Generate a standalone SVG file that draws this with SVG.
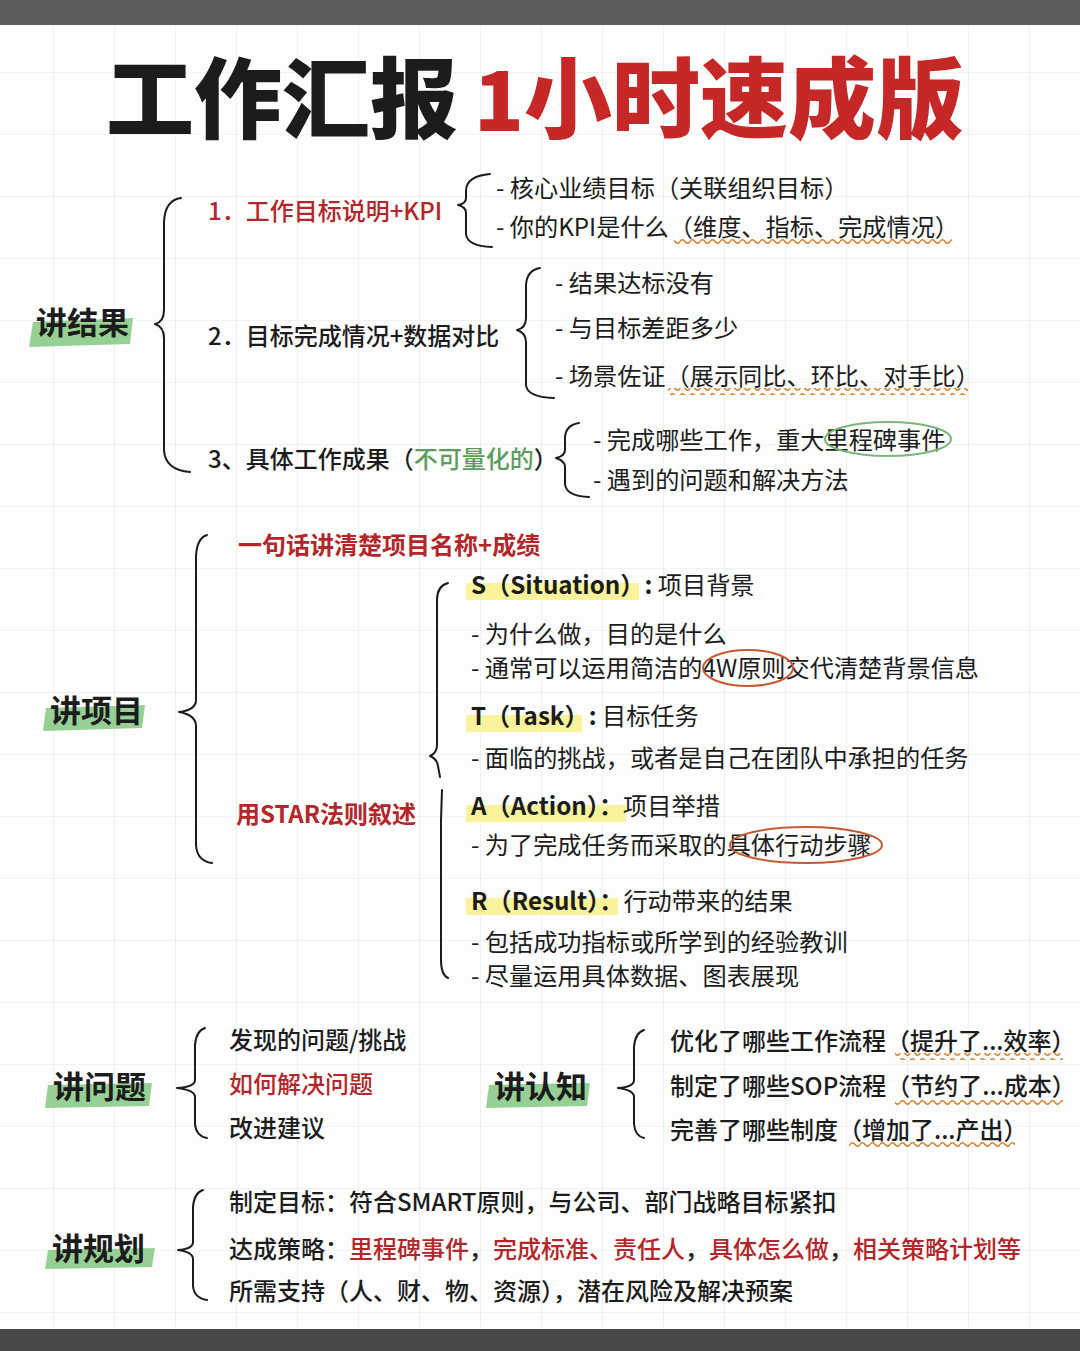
<svg xmlns="http://www.w3.org/2000/svg" width="1080" height="1351" viewBox="0 0 1080 1351">
<style>
text{font-family:"Noto Sans CJK SC","Noto Sans",sans-serif;fill:#1c1c1c}
.title{font-size:88px;font-weight:900}
.tred{fill:#c62828}
.sec{font-size:31px;font-weight:700}
.main{font-size:24px;font-weight:500}
.sub{font-size:24.2px;font-weight:400}
.body{font-size:24px;font-weight:500}
.red{fill:#b3262a}
.green{fill:#5c9c5c}
.brace{fill:none;stroke:#1c1c1c;stroke-width:2;stroke-linecap:round;stroke-linejoin:round}
.hl-g{fill:#8ccb88;opacity:.9}
.hl-y{fill:#f9f39b}
.ring-o{fill:none;stroke:#c65a33;stroke-width:2}
.ring-g{fill:none;stroke:#79b879;stroke-width:2}
</style>
<defs>
<pattern id="grid" patternUnits="userSpaceOnUse" x="53" y="10" width="61" height="62">
<path d="M0,0V62M0,0H61" fill="none" stroke="#e8e8e8" stroke-width="1.2"/>
</pattern>
<pattern id="wave" patternUnits="userSpaceOnUse" x="0" y="0" width="10" height="7">
<path d="M0,3.5Q2.5,0 5,3.5T10,3.5" fill="none" stroke="#d9822e" stroke-width="1.6"/>
</pattern>
</defs>
<rect width="1080" height="1351" fill="#fdfdfd"/>
<rect width="1080" height="1351" fill="url(#grid)"/>
<rect width="1080" height="25" fill="#5d5d5d"/>
<rect y="1329" width="1080" height="22" fill="#484848"/>

<g id="title">
<text class="title" x="106" y="131">工作汇报</text>
<text class="title tred" x="474" y="131" style="font-size:82px">1</text>
<text class="title tred" x="524" y="131">小时速成版</text>
</g>

<g id="connectors">
<path class="brace" d="M181,198Q165,200 164,222L164,310Q164,322 155,324Q164,327 164,338L164,450Q165,470 190,472"/>
<path class="brace" d="M490,174Q467,176 466,190L466,198Q466,204 458,205Q466,207 466,213L466,234Q467,246 492,247"/>
<path class="brace" d="M540,268Q527,270 526,285L526,318Q526,328 517,330Q526,333 526,342L526,385Q527,397 554,398"/>
<path class="brace" d="M579,423Q566,425 565,437L565,450Q565,456 556,458Q565,461 565,467L565,484Q566,496 589,497"/>
<path class="brace" d="M207,535Q197,538 196,556L196,700Q196,710 179,712Q196,715 196,726L196,845Q197,861 212,863"/>
<path class="brace" d="M448,583Q437,586 437,600L437,745Q437,753 430,756Q437,759 438,766L440,777"/>
<path class="brace" d="M442,790L441,820L441,960Q441,975 448,978"/>
<path class="brace" d="M205,1028Q196,1031 195,1045L195,1080Q195,1087 177,1088Q195,1090 195,1097L195,1124Q196,1136 207,1138"/>
<path class="brace" d="M644,1030Q635,1033 634,1047L634,1080Q634,1087 618,1088Q634,1090 634,1097L634,1124Q635,1136 644,1138"/>
<path class="brace" d="M203,1190Q194,1193 193,1207L193,1242Q193,1249 178,1250Q193,1252 193,1259L193,1286Q194,1298 207,1300"/>
</g>

<g id="sec-results">
<polygon class="hl-g" points="33,322 133,318 130,344 29,347"/>
<text class="sec" x="36" y="334">讲结果</text>
</g>
<g id="r1">
<text class="main red" x="208" y="220">1．工作目标说明+KPI</text>
</g>
<g id="r1-items">
<text class="sub" x="496" y="197">- 核心业绩目标（关联组织目标）</text>
<text class="sub" x="496" y="236">- 你的KPI是什么（维度、指标、完成情况）</text>
<rect x="674" y="238" width="278" height="7" fill="url(#wave)"/>
</g>
<g id="r2">
<text class="main" x="208" y="345">2．目标完成情况+数据对比</text>
</g>
<g id="r2-items">
<text class="sub" x="555" y="292">- 结果达标没有</text>
<text class="sub" x="555" y="337">- 与目标差距多少</text>
<text class="sub" x="555" y="385">- 场景佐证（展示同比、环比、对手比）</text>
<rect x="668" y="388" width="300" height="7" fill="url(#wave)"/>
</g>
<g id="r3">
<text class="main" x="208" y="468">3、具体工作成果（<tspan class="green">不可量化的</tspan>）</text>
</g>
<g id="r3-items">
<text class="sub" x="593" y="449">- 完成哪些工作，重大里程碑事件</text>
<text class="sub" x="593" y="489">- 遇到的问题和解决方法</text>
<ellipse class="ring-g" cx="888" cy="439" rx="63" ry="17"/>
</g>

<g id="sec-project">
<polygon class="hl-g" points="46,708 145,705 142,728 43,731"/>
<text class="sec" x="50" y="722">讲项目</text>
</g>
<g id="p1">
<text class="main red" x="238" y="554" style="font-weight:700">一句话讲清楚项目名称+成绩</text>
</g>
<g id="p2">
<text class="main red" x="236" y="823" style="font-weight:700">用STAR法则叙述</text>
</g>
<g id="star-s">
<rect class="hl-y" x="466" y="583" width="173" height="17"/>
<text class="sub" x="471" y="594"><tspan style="font-weight:600">S（Situation）:</tspan> 项目背景</text>
<text class="sub" x="471" y="643">- 为什么做，目的是什么</text>
<text class="sub" x="471" y="677">- 通常可以运用简洁的4W原则交代清楚背景信息</text>
<ellipse class="ring-o" cx="748" cy="668" rx="45" ry="18"/>
</g>
<g id="star-t">
<rect class="hl-y" x="466" y="715" width="116" height="17"/>
<text class="sub" x="471" y="725"><tspan style="font-weight:600">T（Task）:</tspan> 目标任务</text>
<text class="sub" x="471" y="767">- 面临的挑战，或者是自己在团队中承担的任务</text>
</g>
<g id="star-a">
<rect class="hl-y" x="466" y="805" width="160" height="17"/>
<text class="sub" x="471" y="815"><tspan style="font-weight:600">A（Action）：</tspan>项目举措</text>
<text class="sub" x="471" y="854">- 为了完成任务而采取的具体行动步骤</text>
<ellipse class="ring-o" cx="806" cy="845" rx="76" ry="18"/>
</g>
<g id="star-r">
<rect class="hl-y" x="466" y="898" width="152" height="17"/>
<text class="sub" x="471" y="910"><tspan style="font-weight:600">R（Result）：</tspan>行动带来的结果</text>
<text class="sub" x="471" y="951">- 包括成功指标或所学到的经验教训</text>
<text class="sub" x="471" y="985">- 尽量运用具体数据、图表展现</text>
</g>

<g id="sec-problem">
<polygon class="hl-g" points="48,1085 152,1083 149,1106 45,1108"/>
<text class="sec" x="53" y="1098">讲问题</text>
</g>
<g id="q-items">
<text class="body" x="229" y="1049">发现的问题/挑战</text>
<text class="body red" x="229" y="1093">如何解决问题</text>
<text class="body" x="229" y="1137">改进建议</text>
</g>

<g id="sec-cognition">
<polygon class="hl-g" points="489,1085 590,1083 587,1106 486,1108"/>
<text class="sec" x="494" y="1098">讲认知</text>
</g>
<g id="c-items">
<text class="body" x="670" y="1050">优化了哪些工作流程（提升了...效率）</text>
<rect x="895" y="1053" width="168" height="7" fill="url(#wave)"/>
<text class="body" x="670" y="1095">制定了哪些SOP流程（节约了...成本）</text>
<rect x="895" y="1098" width="168" height="7" fill="url(#wave)"/>
<text class="body" x="670" y="1139">完善了哪些制度（增加了...产出）</text>
<rect x="849" y="1140" width="166" height="7" fill="url(#wave)"/>
</g>

<g id="sec-plan">
<polygon class="hl-g" points="48,1250 155,1248 152,1267 45,1269"/>
<text class="sec" x="52" y="1260">讲规划</text>
</g>
<g id="plan-items">
<text class="body" x="229" y="1211">制定目标：符合SMART原则，与公司、部门战略目标紧扣</text>
<text class="body" x="229" y="1258">达成策略：<tspan class="red">里程碑事件</tspan>，<tspan class="red">完成标准、责任人</tspan>，<tspan class="red">具体怎么做</tspan>，<tspan class="red">相关策略计划等</tspan></text>
<text class="body" x="229" y="1300">所需支持（人、财、物、资源），潜在风险及解决预案</text>
</g>
</svg>
